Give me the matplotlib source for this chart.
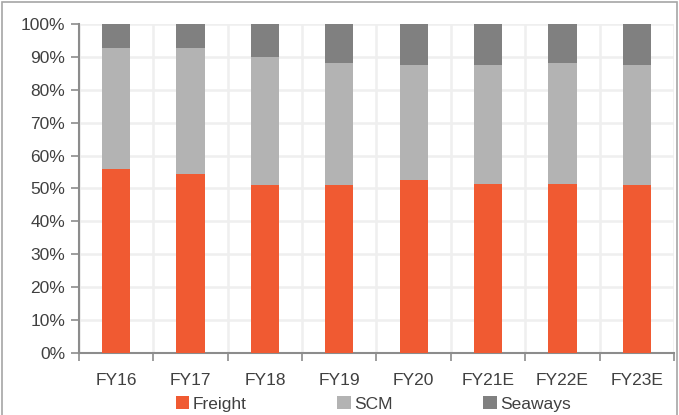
import matplotlib
matplotlib.use("Agg")
import matplotlib.pyplot as plt
import numpy as np
from matplotlib.patches import Rectangle
from matplotlib.ticker import PercentFormatter

years = ["FY16", "FY17", "FY18", "FY19", "FY20", "FY21E", "FY22E", "FY23E"]
freight = [56.0, 54.5, 51.0, 51.0, 52.7, 51.5, 51.5, 51.0]
scm = [36.7, 38.2, 38.9, 37.2, 34.8, 36.0, 36.6, 36.5]
seaways = [7.3, 7.3, 10.1, 11.8, 12.5, 12.5, 11.9, 12.5]

colors = {"Freight": "#F05A32", "SCM": "#B3B3B3", "Seaways": "#808080"}

plt.rcParams["font.family"] = ["Liberation Sans Narrow", "Liberation Sans", "DejaVu Sans"]

fig = plt.figure(figsize=(6.79, 4.15), dpi=100)
ax = fig.add_axes([0.1163, 0.1487, 0.8763, 0.7943])

x = np.arange(len(years))
w = 0.38
b1 = np.array(freight)
b2 = b1 + np.array(scm)
ax.bar(x, freight, w, color=colors["Freight"], label="Freight", zorder=3)
ax.bar(x, scm, w, bottom=b1, color=colors["SCM"], label="SCM", zorder=3)
ax.bar(x, seaways, w, bottom=b2, color=colors["Seaways"], label="Seaways", zorder=3)

ax.set_xlim(-0.5, len(years) - 0.5)
ax.set_ylim(0, 100)
ax.set_yticks(np.arange(0, 101, 10))
ax.yaxis.set_major_formatter(PercentFormatter(decimals=0))
ax.set_xticks(x)
ax.set_xticklabels(years)
ax.set_xticks(np.arange(-0.5, len(years), 1), minor=True)

ax.grid(True, axis="y", color="#EFEFEF", lw=1.8, zorder=0)
ax.grid(True, axis="x", which="minor", color="#EFEFEF", lw=1.8, zorder=0)
ax.grid(False, axis="x", which="major")

for s in ["top", "right"]:
    ax.spines[s].set_visible(False)
for s in ["left", "bottom"]:
    ax.spines[s].set_color("#8C8C8C")
    ax.spines[s].set_linewidth(1.5)

ax.tick_params(axis="y", length=6, color="#8C8C8C", width=1.2, labelsize=12.5,
               labelcolor="#404040", pad=4)
ax.tick_params(axis="x", which="major", length=0, labelsize=12.5,
               labelcolor="#404040", pad=14)
ax.tick_params(axis="x", which="minor", length=6, color="#8C8C8C", width=1.2)

fig.legend(loc="lower center", bbox_to_anchor=(0.55, -0.03), ncol=3, frameon=False,
           fontsize=12.5, handlelength=0.8, handleheight=0.8, handletextpad=0.2,
           columnspacing=5.2, labelcolor="#404040")

fig.patches.append(Rectangle((0.003, -0.01), 0.994, 1.005, transform=fig.transFigure,
                             fill=False, edgecolor="#A6A6A6", lw=1.2))

fig.savefig("out.png", dpi=100)
